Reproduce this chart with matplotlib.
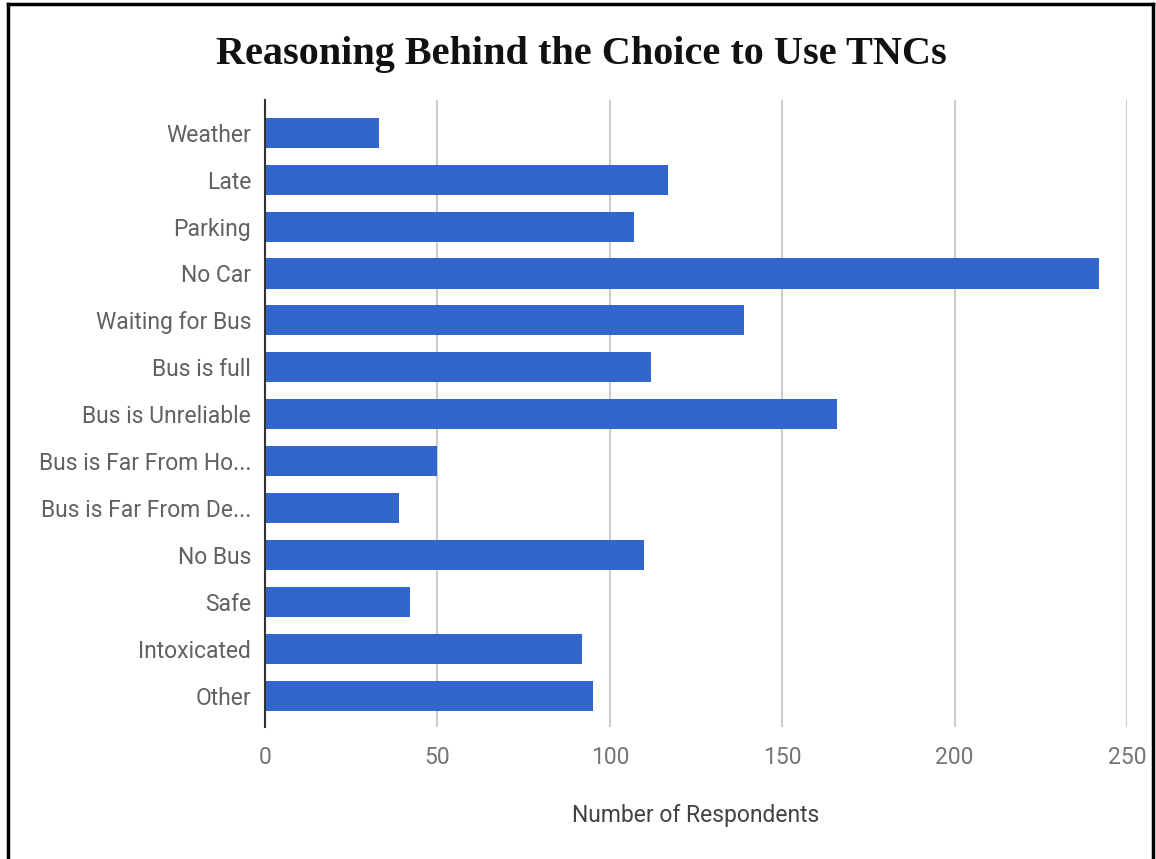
import matplotlib
matplotlib.use("Agg")
import matplotlib.pyplot as plt
from matplotlib.lines import Line2D

# survey answers, top to bottom as in the chart
reasons = ["Weather", "Late", "Parking", "No Car", "Waiting for Bus", "Bus is full",
           "Bus is Unreliable", "Bus is Far From Ho...", "Bus is Far From De...",
           "No Bus", "Safe", "Intoxicated", "Other"]
respondents = [33, 117, 107, 242, 139, 112, 166, 50, 39, 110, 42, 92, 95]
x_ticks = [0, 50, 100, 150, 200, 250]

fig = plt.figure(figsize=(11.56, 8.59), dpi=100)
ax = fig.add_axes([0.2292, 0.1537, 0.7457, 0.7299])

pos = list(range(len(reasons)))
ax.barh(pos, respondents, height=0.64, color="#3366cc", zorder=3)

ax.set_ylim(len(reasons) - 1 + 0.67, -0.7)
ax.set_xlim(0, 250)
ax.set_yticks(pos)
ax.set_yticklabels(reasons, fontfamily="Roboto", fontsize=16.5, color="#616161")
ax.set_xticks(x_ticks)
ax.set_xticklabels([str(t) for t in x_ticks], fontfamily="Roboto", fontsize=16.5, color="#757575")
ax.tick_params(axis="both", length=0, pad=10)
ax.tick_params(axis="x", pad=14)

# light vertical grid, dark baseline on the left
ax.grid(axis="x", color="#cccccc", linewidth=1.5, zorder=0)
for s in ["top", "right", "bottom"]:
    ax.spines[s].set_visible(False)
ax.spines["left"].set_color("#333333")
ax.spines["left"].set_linewidth(1.5)
ax.spines["left"].set_zorder(4)

ax.set_xlabel("Number of Respondents", fontfamily="Roboto", fontsize=16.5,
              color="#424242", labelpad=25)

fig.text(0.503, 0.937, "Reasoning Behind the Choice to Use TNCs", ha="center", va="center",
         fontfamily="Liberation Serif", fontweight="bold", fontsize=29, color="#111111")

# black frame around the screenshot
fig.add_artist(Line2D([0.0065, 0.0065], [0, 0.995], color="black", linewidth=2.5))
fig.add_artist(Line2D([0.0065, 0.9975], [0.995, 0.995], color="black", linewidth=2.5))
fig.add_artist(Line2D([0.9975, 0.9975], [0, 0.995], color="black", linewidth=2.5))

fig.savefig("out.png", dpi=100)
